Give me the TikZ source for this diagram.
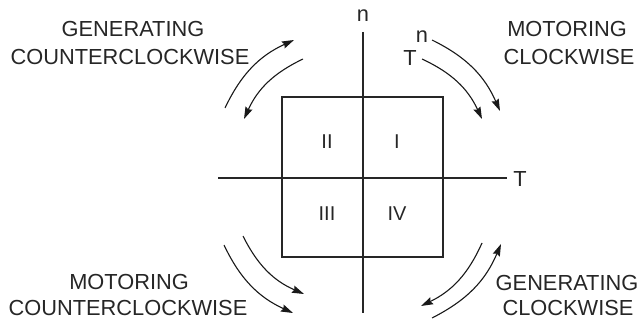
\documentclass[tikz,border=0pt]{standalone}
\usepackage{fontspec}
\setmainfont{Liberation Sans}
\usetikzlibrary{arrows.meta}
\begin{document}
\begin{tikzpicture}[x=1pt,y=1pt,
  line/.style={line width=1.2pt,draw=black!85},
  arr/.style={line width=1.1pt,draw=black!90,-{Stealth[length=12pt,width=7.5pt,inset=1.5pt]}},
  lbl/.style={inner sep=0pt,anchor=base,font=\fontsize{21.8}{26}\selectfont,text=black!85},
  num/.style={inner sep=0pt,font=\fontsize{20}{24}\selectfont,text=black!85}]
\useasboundingbox (0,0) rectangle (644,-321);
% axes
\coordinate (vt) at (363,-32);
\coordinate (vb) at (363,-313);
\coordinate (hl) at (218,-178);
\coordinate (hr) at (507,-178);
\draw[line] (vt) -- (vb);
\draw[line] (hl) -- (hr);
\node[lbl] (nlab) at (363,-22) {n};
\node[lbl] (tlab) at (520,-186) {T};
% square
\draw[line] (282,-97) rectangle (443,-257);
\node[num] (q2) at (327,-142) {II};
\node[num] (q1) at (397,-142) {I};
\node[num] (q3) at (327,-214) {III};
\node[num] (q4) at (397,-214) {IV};
% text labels
\node[lbl] (g1) at (133,-37) {GENERATING};
\node[lbl] (g2) at (130,-64) {COUNTERCLOCKWISE};
\node[lbl] (m1) at (567,-37) {MOTORING};
\node[lbl] (m2) at (569,-64) {CLOCKWISE};
\node[lbl] (m3) at (129,-289) {MOTORING};
\node[lbl] (m4) at (128,-315) {COUNTERCLOCKWISE};
\node[lbl] (g3) at (567,-290) {GENERATING};
\node[lbl] (g4) at (568,-315) {CLOCKWISE};
\node[lbl] (sn) at (422,-42) {n};
\node[lbl] (sT) at (410,-65) {T};
% arrow end points
\coordinate (a1s) at (225,-108); \coordinate (a1e) at (294,-40);
\coordinate (a2s) at (303,-59);  \coordinate (a2e) at (244,-119);
\coordinate (a3s) at (432,-40);  \coordinate (a3e) at (500,-111);
\coordinate (a4s) at (422,-59);  \coordinate (a4e) at (482,-119);
\coordinate (a5s) at (224,-245); \coordinate (a5e) at (293,-313);
\coordinate (a6s) at (243,-236); \coordinate (a6e) at (304,-294);
\coordinate (a7s) at (482,-243); \coordinate (a7e) at (421,-306);
\coordinate (a8s) at (432,-318); \coordinate (a8e) at (501,-244);
\draw[arr] (a1s) to[bend left=20] (a1e);
\draw[arr] (a2s) to[bend right=20] (a2e);
\draw[arr] (a3s) to[bend left=20] (a3e);
\draw[arr] (a4s) to[bend left=20] (a4e);
\draw[arr] (a5s) to[bend right=20] (a5e);
\draw[arr] (a6s) to[bend right=20] (a6e);
\draw[arr] (a7s) to[bend left=20] (a7e);
\draw[arr] (a8s) to[bend right=20] (a8e);
\end{tikzpicture}
\end{document}
